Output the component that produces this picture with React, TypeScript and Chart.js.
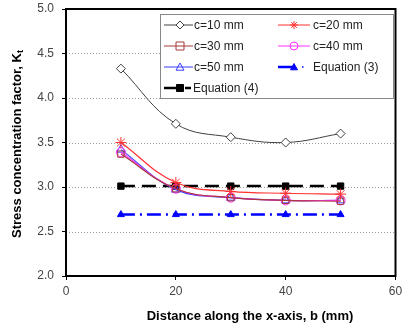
import React, { useEffect, useRef } from "react";
import { Chart, registerables } from "chart.js";

Chart.register(...registerables);

const xValues = [10, 20, 30, 40, 50];
const c10 = [4.33, 3.71, 3.56, 3.5, 3.6];
const c20 = [3.5, 3.05, 2.95, 2.93, 2.92];
const c30 = [3.37, 2.98, 2.88, 2.85, 2.84];
const c40 = [3.39, 2.98, 2.88, 2.85, 2.85];
const c50 = [3.42, 2.97, 2.88, 2.85, 2.85];
const eq3 = [2.69, 2.69, 2.69, 2.69, 2.69];
const eq4 = [3.01, 3.01, 3.01, 3.01, 3.01];
const seriesLabels = ["c=10 mm", "c=20 mm", "c=30 mm", "c=40 mm", "c=50 mm", "Equation (3)", "Equation (4)"];
const xTitle = "Distance along the x-axis, b (mm)";
const yTitleMain = "Stress concentration factor, K";
const yTitleSub = "t";

const FONT = "'Liberation Sans', Arial, sans-serif";

function toPts(vals: number[]) {
  return vals.map((v, i) => ({ x: xValues[i], y: v }));
}

function drawMarker(ctx: CanvasRenderingContext2D, style: string, x: number, y: number, r: number, color: string, fill: string | null, lw: number) {
  ctx.save();
  ctx.strokeStyle = color;
  ctx.lineWidth = lw;
  ctx.setLineDash([]);
  ctx.beginPath();
  if (style === "rectRot") {
    ctx.moveTo(x, y - r); ctx.lineTo(x + r, y); ctx.lineTo(x, y + r); ctx.lineTo(x - r, y); ctx.closePath();
  } else if (style === "rect") {
    ctx.rect(x - r, y - r, 2 * r, 2 * r);
  } else if (style === "circle") {
    ctx.arc(x, y, r, 0, Math.PI * 2);
  } else if (style === "triangle") {
    ctx.moveTo(x, y - r); ctx.lineTo(x + r, y + r * 0.8); ctx.lineTo(x - r, y + r * 0.8); ctx.closePath();
  } else if (style === "star") {
    for (let k = 0; k < 4; k++) {
      const a = (k * Math.PI) / 4;
      ctx.moveTo(x - r * Math.cos(a), y - r * Math.sin(a));
      ctx.lineTo(x + r * Math.cos(a), y + r * Math.sin(a));
    }
  }
  if (fill) { ctx.fillStyle = fill; ctx.fill(); }
  ctx.stroke();
  ctx.restore();
}

const legendItems = [
  { col: 0, row: 0, color: "#404040", style: "rectRot", fill: "#ffffff", lw: 1, dash: [] as number[] },
  { col: 1, row: 0, color: "#ff3030", style: "star", fill: null, lw: 1, dash: [] as number[] },
  { col: 0, row: 1, color: "#a83a3a", style: "rect", fill: null, lw: 1, dash: [] as number[] },
  { col: 1, row: 1, color: "#ff30ff", style: "circle", fill: null, lw: 1, dash: [] as number[] },
  { col: 0, row: 2, color: "#3a3aff", style: "triangle", fill: null, lw: 1, dash: [] as number[] },
  { col: 1, row: 2, color: "#0000ff", style: "triangle", fill: "#0000ff", lw: 2.5, dash: [14, 5, 2, 5] },
  { col: 0, row: 3, color: "#000000", style: "rect", fill: "#000000", lw: 2.5, dash: [14, 5] },
];

const gridPlugin = {
  id: "dotgrid",
  beforeDatasetsDraw(chart: any) {
    const ctx: CanvasRenderingContext2D = chart.ctx;
    const a = chart.chartArea;
    const ys = chart.scales.y;
    ctx.save();
    ctx.strokeStyle = "#999";
    ctx.lineWidth = 1;
    ctx.setLineDash([1, 2]);
    ys.ticks.forEach((t: any) => {
      if (t.value <= 2 || t.value >= 5) return;
      const y = Math.round(ys.getPixelForValue(t.value)) + 0.5;
      ctx.beginPath();
      ctx.moveTo(a.left, y);
      ctx.lineTo(a.right, y);
      ctx.stroke();
    });
    ctx.restore();
  },
};

const overlayPlugin = {
  id: "overlay",
  afterDraw(chart: any) {
    const ctx: CanvasRenderingContext2D = chart.ctx;
    const a = chart.chartArea;
    ctx.save();
    ctx.strokeStyle = "#000";
    ctx.lineWidth = 2;
    ctx.strokeRect(a.left, a.top, a.right - a.left, a.bottom - a.top);
    const bx = 160, by = 14, bw = 233, bh = 84;
    ctx.fillStyle = "#fff";
    ctx.fillRect(bx, by, bw, bh);
    ctx.strokeStyle = "#888";
    ctx.lineWidth = 1;
    ctx.strokeRect(bx + 0.5, by + 0.5, bw, bh);
    const rows = [25, 46, 67, 88];
    const cols = [{ l0: 164, l1: 193, m: 180, t: 194 }, { l0: 278, l1: 310, m: 294, t: 313 }];
    ctx.font = `12px ${FONT}`;
    ctx.textBaseline = "middle";
    legendItems.forEach((it, i) => {
      const c = cols[it.col];
      const y = rows[it.row];
      ctx.save();
      ctx.strokeStyle = it.color;
      ctx.lineWidth = it.lw;
      if (it.dash.length === 4) {
        ctx.beginPath(); ctx.moveTo(c.l0, y); ctx.lineTo(c.m, y); ctx.stroke();
        ctx.lineWidth = 1.5;
        ctx.beginPath(); ctx.moveTo(c.m + 8, y); ctx.lineTo(c.m + 9.5, y); ctx.stroke();
      } else if (it.dash.length === 2) {
        ctx.beginPath(); ctx.moveTo(c.l0, y); ctx.lineTo(c.m, y); ctx.stroke();
        ctx.beginPath(); ctx.moveTo(c.m + 5, y); ctx.lineTo(c.l1 - 2, y); ctx.stroke();
      } else {
        ctx.beginPath(); ctx.moveTo(c.l0, y); ctx.lineTo(c.l1, y); ctx.stroke();
      }
      ctx.restore();
      drawMarker(ctx, it.style, c.m, y, it.fill && it.fill !== "#ffffff" ? 3.5 : 4, it.color, it.fill, 1);
      ctx.fillStyle = "#222";
      ctx.textAlign = "left";
      ctx.fillText(seriesLabels[i], it.dash.length === 2 ? c.l1 : c.t, y + 1);
    });
    ctx.fillStyle = "#000";
    ctx.font = `bold 13px ${FONT}`;
    ctx.textAlign = "center";
    ctx.textBaseline = "middle";
    ctx.fillText(xTitle, 250, 316);
    ctx.save();
    ctx.translate(17, 144);
    ctx.rotate(-Math.PI / 2);
    const wMain = ctx.measureText(yTitleMain).width;
    ctx.font = `bold 9px ${FONT}`;
    const wSub = ctx.measureText(yTitleSub).width;
    const total = wMain + wSub;
    ctx.textAlign = "left";
    ctx.font = `bold 13px ${FONT}`;
    ctx.fillText(yTitleMain, -total / 2, 0);
    ctx.font = `bold 9px ${FONT}`;
    ctx.fillText(yTitleSub, -total / 2 + wMain, 4);
    ctx.restore();
    ctx.restore();
  },
};

export default function App() {
  const ref = useRef<HTMLCanvasElement>(null);
  useEffect(() => {
    if (!ref.current) return;
    const mk = (label: string, data: number[], color: string, style: string, extra: any = {}) => ({
      label,
      data: toPts(data),
      borderColor: color,
      backgroundColor: "rgba(0,0,0,0)",
      pointBorderColor: color,
      pointBackgroundColor: "#ffffff",
      pointStyle: style,
      pointRadius: 4,
      pointBorderWidth: 1,
      borderWidth: 1.2,
      tension: 0.4,
      ...extra,
    });
    const chart = new Chart(ref.current, {
      type: "line",
      data: {
        datasets: [
          mk(seriesLabels[5], eq3, "#0000ff", "triangle", { borderWidth: 2.5, borderDash: [14, 5, 2, 5], tension: 0, pointBackgroundColor: "#0000ff", pointRadius: 4 }),
          mk(seriesLabels[0], c10, "#404040", "rectRot", { borderWidth: 1, pointRadius: 4.5 }),
          mk(seriesLabels[1], c20, "#ff3030", "star", { pointRadius: 5.5 }),
          mk(seriesLabels[2], c30, "#a83a3a", "rect", { pointBackgroundColor: "rgba(0,0,0,0)", pointRadius: 4.5 }),
          mk(seriesLabels[3], c40, "#ff30ff", "circle", { pointBackgroundColor: "rgba(0,0,0,0)", pointRadius: 4.5 }),
          mk(seriesLabels[4], c50, "#3a3aff", "triangle", { pointBackgroundColor: "rgba(0,0,0,0)", pointRadius: 5 }),
          mk(seriesLabels[6], eq4, "#000000", "rect", { borderWidth: 2.5, borderDash: [14, 7], tension: 0, pointBackgroundColor: "#000000", pointRadius: 4.5 }),
        ],
      },
      options: {
        animation: false,
        responsive: false,
        layout: { padding: { left: 0, right: 6, top: 9, bottom: 0 } },
        plugins: { legend: { display: false }, tooltip: { enabled: false } },
        scales: {
          x: {
            type: "linear",
            min: 0,
            max: 60,
            ticks: { stepSize: 20, color: "#444", font: { family: FONT, size: 12 }, padding: 4, maxRotation: 0 },
            grid: { drawOnChartArea: false, drawTicks: true, tickLength: 4, color: "#000" },
            border: { display: false },
            afterFit: (s: any) => { s.height = 51; s.paddingLeft = 0; s.paddingRight = 0; },
          },
          y: {
            min: 2,
            max: 5,
            ticks: { stepSize: 0.5, color: "#444", font: { family: FONT, size: 12 }, padding: 8, callback: (v: any) => Number(v).toFixed(1) },
            grid: { drawOnChartArea: false, drawTicks: true, tickLength: 4, color: "#000" },
            border: { display: false },
            afterFit: (s: any) => { s.width = 66; s.paddingTop = 0; s.paddingBottom = 0; },
          },
        },
      },
      plugins: [gridPlugin, overlayPlugin],
    } as any);
    return () => chart.destroy();
  }, []);
  return (
    <div style={{ position: "fixed", left: 0, top: 0, width: 402, height: 327, background: "#fff" }}>
      <canvas ref={ref} width={402} height={327} style={{ width: 402, height: 327 }} />
    </div>
  );
}
